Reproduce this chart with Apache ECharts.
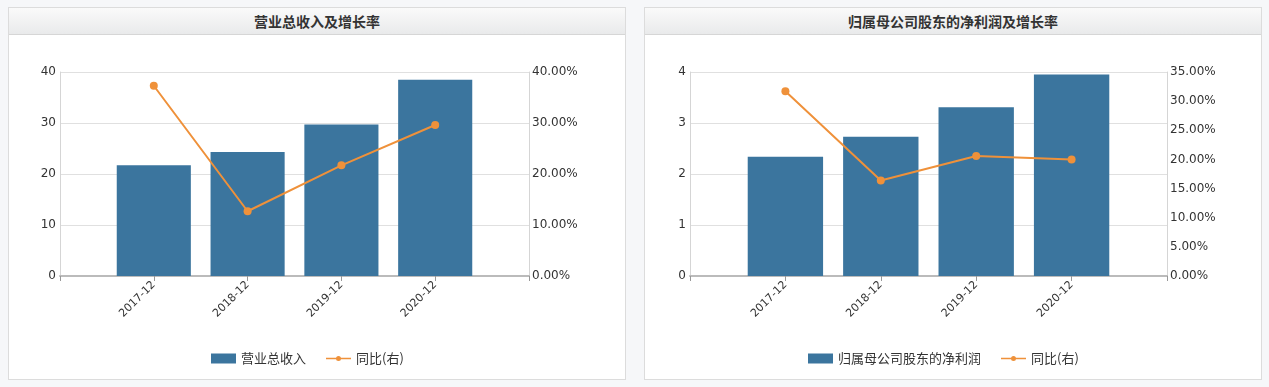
<!DOCTYPE html>
<html><head><meta charset="utf-8">
<script src="https://cdn.jsdelivr.net/npm/echarts@6/dist/echarts.min.js"></script>
<style>
html,body{margin:0;padding:0;background:#f6f7f9;width:1269px;height:387px;overflow:hidden;}
.panel{position:absolute;top:7px;width:616px;height:371px;border:1px solid #dcdcdc;background:#fff;}
.hdr{height:26px;border-bottom:1px solid #d6d6d6;background:linear-gradient(#fafafa,#e9eaeb);text-align:center;font:bold 14px "Noto Sans CJK SC",sans-serif;color:#333;line-height:27px;}
.chart{position:absolute;top:7px;width:618px;height:373px;}
</style></head><body>
<div class="panel" style="left:8px"><div class="hdr">营业总收入及增长率</div></div>
<div class="panel" style="left:644px"><div class="hdr">归属母公司股东的净利润及增长率</div></div>
<div id="c1" class="chart" style="left:8px"></div>
<div id="c2" class="chart" style="left:644px"></div>
<script>
const categories = ['2017-12','2018-12','2019-12','2020-12'];
const revenue = [21.7, 24.3, 29.7, 38.5];
const revenueYoY = [37.3, 12.7, 21.7, 29.6];
const netProfit = [2.34, 2.73, 3.31, 3.95];
const netProfitYoY = [31.7, 16.4, 20.6, 20.0];
const leftTicks1 = {min:0, max:40, interval:10};
const rightTicks1 = {min:0, max:40, interval:10};
const leftTicks2 = {min:0, max:4, interval:1};
const rightTicks2 = {min:0, max:35, interval:5};

const BAR = '#3b759e', LINE = '#ef913a';
const FONT = 'DejaVu Sans';
const LINE_ICON = 'path://M0,4.3L10.2,4.3L10.2,5.7L0,5.7Z M14.8,4.3L25,4.3L25,5.7L14.8,5.7Z M10,5A2.5,2.5 0 1 1 15,5A2.5,2.5 0 1 1 10,5Z';

function build(el, barName, bars, yoy, lt, rt, grid, legendLeft){
  const chart = echarts.init(document.getElementById(el), null, {renderer:'canvas'});
  const axisCats = [''].concat(categories, ['']);
  const pad = a => [null].concat(a, [null]);
  chart.setOption({
    animation:false,
    textStyle:{fontFamily:FONT},
    grid:grid,
    legend:{
      left:legendLeft, top:340, itemWidth:25, itemHeight:10, itemGap:20,
      textStyle:{fontFamily:'Noto Sans CJK SC', fontSize:13, color:'#333'},
      data:[{name:barName, icon:'rect'}, {name:'同比(右)', icon:LINE_ICON}]
    },
    xAxis:{
      type:'category', boundaryGap:false, data:axisCats,
      axisLine:{lineStyle:{color:'#bbb', width:2}},
      axisTick:{show:true, length:5, lineStyle:{color:'#999'}},
      axisLabel:{interval:0, rotate:45, fontSize:11, color:'#333', fontFamily:FONT, margin:7}
    },
    yAxis:[
      {type:'value', min:lt.min, max:lt.max, interval:lt.interval,
       axisLine:{show:true, lineStyle:{color:'#d5d5d5'}}, axisTick:{show:false},
       splitLine:{lineStyle:{color:'#e0e0e0'}},
       axisLabel:{fontSize:12, color:'#333', fontFamily:FONT, margin:4}},
      {type:'value', min:rt.min, max:rt.max, interval:rt.interval, position:'right',
       axisLine:{show:true, lineStyle:{color:'#d5d5d5'}}, axisTick:{show:false},
       splitLine:{show:false},
       axisLabel:{fontSize:12, color:'#333', fontFamily:FONT, margin:3,
                  formatter:v=>v.toFixed(2)+'%'}}
    ],
    series:[
      {name:barName, type:'bar', data:pad(bars), barWidth:'79%', itemStyle:{color:BAR}},
      {name:'同比(右)', type:'line', yAxisIndex:1, data:pad(yoy), symbol:'circle', symbolSize:8,
       lineStyle:{color:LINE, width:2}, itemStyle:{color:LINE}}
    ]
  });
}
build('c1','营业总收入', revenue, revenueYoY, leftTicks1, rightTicks1,
  {left:52, right:97, top:65, bottom:104}, 198);
build('c2','归属母公司股东的净利润', netProfit, netProfitYoY, leftTicks2, rightTicks2,
  {left:46, right:95, top:65, bottom:104}, 159);
</script>
</body></html>
